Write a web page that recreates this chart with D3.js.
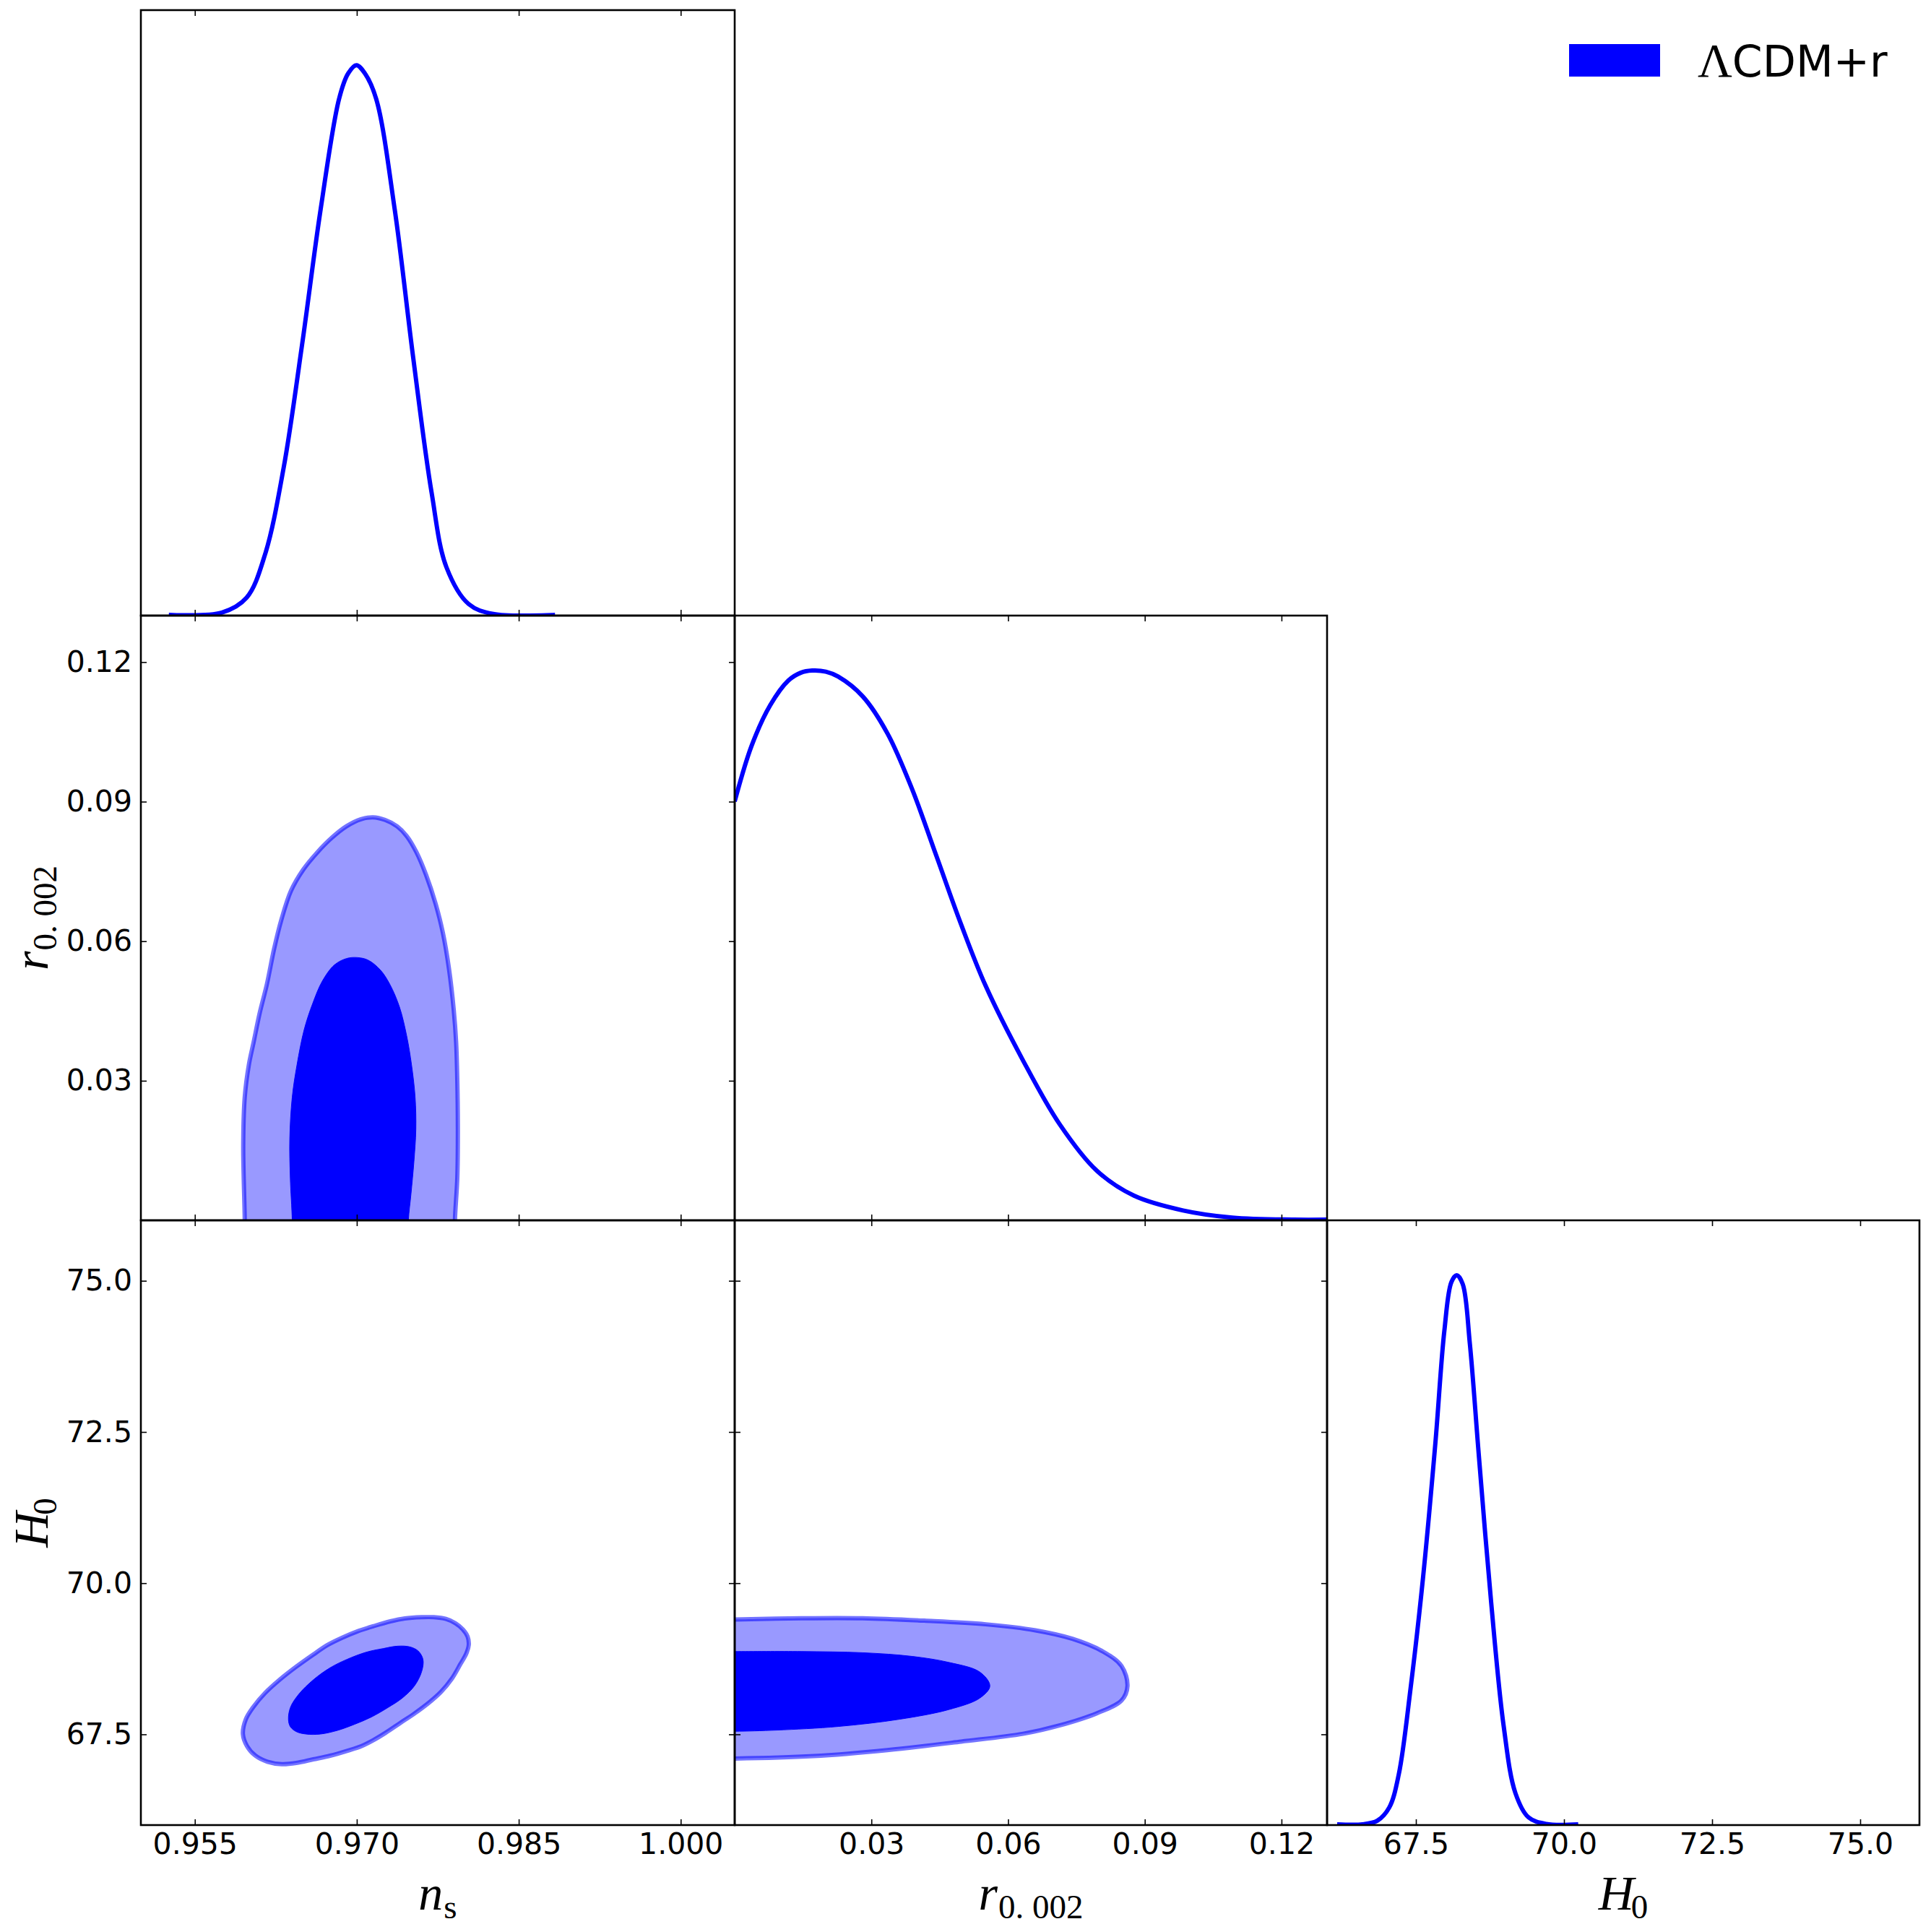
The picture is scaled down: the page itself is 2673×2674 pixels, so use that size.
<!DOCTYPE html>
<html><head><meta charset="utf-8">
<script src="https://cdn.jsdelivr.net/npm/d3@7"></script>
<style>body{margin:0;background:#fff}</style>
</head><body>
<svg id="c" width="2673" height="2674" xmlns="http://www.w3.org/2000/svg"></svg>
<script>
// ---------------- data ----------------
const paramNames = ["ns", "r", "H0"];
const domainNs = [0.95, 1.005];
const domainR = [0, 0.13];
const domainH0 = [66, 76];
const ticksNs = [0.955, 0.970, 0.985, 1.000];
const tickLabelsNs = ["0.955", "0.970", "0.985", "1.000"];
const ticksR = [0.03, 0.06, 0.09, 0.12];
const tickLabelsR = ["0.03", "0.06", "0.09", "0.12"];
const ticksH0 = [67.5, 70.0, 72.5, 75.0];
const tickLabelsH0 = ["67.5", "70.0", "72.5", "75.0"];
const legendLabel = "CDM+r";

// 1D marginals (normalised to peak 1)
const ns1D_x = [0.95259,0.95750,0.95979,0.96150,0.96322,0.96493,0.96665,0.96836,0.96920,0.96996,0.97075,0.97179,0.97351,0.97522,0.97693,0.97830,0.98036,0.98264,0.98836];
const ns1D_p = [0,0.0055,0.0325,0.111,0.268,0.492,0.738,0.939,0.985,1.0,0.985,0.939,0.738,0.469,0.223,0.088,0.021,0.003,0];
const r1D_x = [0,0.0037,0.0078,0.0118,0.0145,0.0170,0.0200,0.0227,0.0281,0.0335,0.0389,0.0443,0.0497,0.0551,0.0632,0.0713,0.0795,0.0876,0.0984,0.1092,0.1227,0.13];
const r1D_p = [0.762,0.863,0.937,0.982,0.996,1.0,0.998,0.989,0.953,0.886,0.785,0.662,0.538,0.426,0.292,0.175,0.090,0.045,0.018,0.005,0.0005,0];
const H01D_x = [66.17,66.60,66.85,67.05,67.21,67.41,67.62,67.83,67.98,68.10,68.19,68.29,68.41,68.56,68.77,68.98,69.18,69.40,69.70,70.24];
const H01D_p = [0,0.001,0.008,0.032,0.092,0.249,0.450,0.697,0.899,0.988,1.0,0.984,0.876,0.675,0.405,0.181,0.058,0.014,0.002,0];

// 2D contours (68% inner, 95% outer)
const nsR_outer = [[0.95962,-0.006],[0.95962,0],[0.95948,0.01608],[0.95962,0.02648],[0.96000,0.03341],[0.96044,0.03826],[0.96100,0.04450],[0.96167,0.05073],[0.96234,0.05836],[0.96301,0.06460],[0.96390,0.07083],[0.96502,0.07534],[0.96636,0.07915],[0.96770,0.08227],[0.96904,0.08470],[0.97038,0.08622],[0.97150,0.08664],[0.97261,0.08608],[0.97373,0.08470],[0.97462,0.08262],[0.97552,0.07915],[0.97641,0.07430],[0.97730,0.06806],[0.97797,0.06182],[0.97853,0.05420],[0.97898,0.04519],[0.97920,0.03826],[0.97931,0.02994],[0.97936,0.01955],[0.97931,0.00915],[0.97909,0],[0.97909,-0.006]];
const nsR_inner = [[0.96402,-0.006],[0.96402,0],[0.96384,0.00915],[0.96379,0.01747],[0.96402,0.02648],[0.96446,0.03341],[0.96513,0.04103],[0.96591,0.04658],[0.96681,0.05143],[0.96792,0.05489],[0.96904,0.05628],[0.97004,0.05649],[0.97105,0.05593],[0.97217,0.05385],[0.97306,0.05073],[0.97395,0.04588],[0.97462,0.03964],[0.97507,0.03341],[0.97540,0.02648],[0.97547,0.01955],[0.97529,0.01261],[0.97502,0.00568],[0.97478,0],[0.97478,-0.006]];
const nsH0_outer = [[0.95945,67.505],[0.95983,67.306],[0.96061,67.147],[0.96172,67.048],[0.96306,67.007],[0.96440,67.027],[0.96597,67.087],[0.96753,67.147],[0.96909,67.227],[0.97043,67.306],[0.97155,67.406],[0.97266,67.525],[0.97400,67.685],[0.97534,67.844],[0.97668,68.023],[0.97780,68.202],[0.97881,68.422],[0.97959,68.660],[0.98015,68.840],[0.98037,68.979],[0.98026,69.118],[0.97981,69.238],[0.97914,69.337],[0.97825,69.409],[0.97713,69.437],[0.97601,69.437],[0.97445,69.417],[0.97311,69.369],[0.97155,69.289],[0.96998,69.198],[0.96864,69.098],[0.96730,68.979],[0.96597,68.820],[0.96440,68.620],[0.96284,68.401],[0.96150,68.183],[0.96038,67.944],[0.95971,67.744]];
const nsH0_inner = [[0.96367,67.744],[0.96385,67.625],[0.96440,67.545],[0.96529,67.505],[0.96663,67.505],[0.96820,67.565],[0.96976,67.664],[0.97132,67.784],[0.97289,67.944],[0.97423,68.103],[0.97534,68.302],[0.97601,68.541],[0.97613,68.740],[0.97568,68.879],[0.97490,68.947],[0.97378,68.959],[0.97244,68.919],[0.97088,68.859],[0.96909,68.740],[0.96753,68.601],[0.96597,68.401],[0.96462,68.162],[0.96385,67.944]];
const rH0_outer = [[-0.005,69.40],[0,69.40],[0.0146,69.42],[0.0281,69.42],[0.0416,69.38],[0.0551,69.32],[0.0660,69.22],[0.0741,69.08],[0.0808,68.87],[0.0849,68.63],[0.0862,68.30],[0.0849,68.06],[0.0795,67.85],[0.0714,67.65],[0.0633,67.51],[0.0497,67.38],[0.0335,67.24],[0.0173,67.14],[0,67.10],[-0.005,67.10]];
const rH0_inner = [[-0.005,68.87],[0,68.87],[0.0146,68.87],[0.0281,68.85],[0.0389,68.79],[0.0470,68.69],[0.0538,68.53],[0.0560,68.30],[0.0538,68.10],[0.0470,67.91],[0.0362,67.75],[0.0227,67.63],[0.0092,67.57],[0,67.55],[-0.005,67.55]];

// ---------------- layout ----------------
const xEdges = [195, 1017, 1837, 2657];
const yEdges = [14, 852, 1689, 2526];
const svg = d3.select("#c");
const BLUE = "#0000ff";
const LIGHT = "#9999ff";
const TICKFONT = "DejaVu Sans";

const doms = {ns: domainNs, r: domainR, H0: domainH0};
const tickSets = {ns: [ticksNs, tickLabelsNs], r: [ticksR, tickLabelsR], H0: [ticksH0, tickLabelsH0]};
function xScale(col){ return d3.scaleLinear().domain(doms[paramNames[col]]).range([xEdges[col], xEdges[col+1]]); }
function yScale(row){ return d3.scaleLinear().domain(doms[paramNames[row]]).range([yEdges[row+1], yEdges[row]]); }
function pScale(row){ return d3.scaleLinear().domain([0, 1.1]).range([yEdges[row+1], yEdges[row]]); }

const defs = svg.append("defs");
for (let row = 0; row < 3; row++) for (let col = 0; col <= row; col++) {
  defs.append("clipPath").attr("id", `clip${row}${col}`).append("rect")
    .attr("x", xEdges[col]).attr("y", yEdges[row])
    .attr("width", xEdges[col+1]-xEdges[col]).attr("height", yEdges[row+1]-yEdges[row]);
}

// 2D contours
function drawContours(row, col, outer, inner){
  const xs = xScale(col), ys = yScale(row);
  const g = svg.append("g").attr("clip-path", `url(#clip${row}${col})`);
  const line = d3.line().x(d => xs(d[0])).y(d => ys(d[1])).curve(d3.curveCatmullRomClosed.alpha(0.5));
  g.append("path").attr("d", line(outer)).attr("fill", LIGHT).attr("stroke", BLUE)
    .attr("stroke-opacity", 0.55).attr("stroke-width", 6).attr("stroke-linejoin", "round");
  g.append("path").attr("d", line(inner)).attr("fill", BLUE).attr("stroke", BLUE).attr("stroke-width", 1);
}
drawContours(1, 0, nsR_outer, nsR_inner);
drawContours(2, 0, nsH0_outer, nsH0_inner);
drawContours(2, 1, rH0_outer, rH0_inner);

// 1D curves
function draw1D(i, xv, pv){
  const xs = xScale(i), ps = pScale(i);
  const pts = xv.map((v, k) => [v, pv[k]]);
  const line = d3.line().x(d => xs(d[0])).y(d => Math.min(ps(d[1]), yEdges[i+1] - 1)).curve(d3.curveCatmullRom.alpha(0.5));
  svg.append("g").attr("clip-path", `url(#clip${i}${i})`).append("path")
    .attr("d", line(pts)).attr("fill", "none").attr("stroke", BLUE).attr("stroke-width", 6)
    .attr("stroke-linejoin", "round");
}
draw1D(0, ns1D_x, ns1D_p);
draw1D(1, r1D_x, r1D_p);
draw1D(2, H01D_x, H01D_p);

// axes & frames
function styleAxis(g, showLabels){
  g.select(".domain").remove();
  g.selectAll(".tick line").attr("stroke", "#000").attr("stroke-width", 1.6);
  g.selectAll(".tick text").attr("font-family", TICKFONT).attr("font-size", 41).attr("fill", "#000");
  if (!showLabels) g.selectAll(".tick text").remove();
}
for (let row = 0; row < 3; row++) for (let col = 0; col <= row; col++) {
  const xs = xScale(col);
  const [tv, tl] = tickSets[paramNames[col]];
  const fmt = (d) => tl[tv.indexOf(d)];
  const bottom = svg.append("g").attr("transform", `translate(0,${yEdges[row+1]})`)
    .call(d3.axisBottom(xs).tickValues(tv).tickFormat(fmt).tickSizeInner(-8).tickSizeOuter(0).tickPadding(11));
  styleAxis(bottom, row === 2);
  const top = svg.append("g").attr("transform", `translate(0,${yEdges[row]})`)
    .call(d3.axisTop(xs).tickValues(tv).tickFormat(fmt).tickSizeInner(-8).tickSizeOuter(0));
  styleAxis(top, false);
  if (row !== col) {
    const ys = yScale(row);
    const [yv, yl] = tickSets[paramNames[row]];
    const yfmt = (d) => yl[yv.indexOf(d)];
    const left = svg.append("g").attr("transform", `translate(${xEdges[col]},0)`)
      .call(d3.axisLeft(ys).tickValues(yv).tickFormat(yfmt).tickSizeInner(-8).tickSizeOuter(0).tickPadding(12));
    styleAxis(left, col === 0);
    const right = svg.append("g").attr("transform", `translate(${xEdges[col+1]},0)`)
      .call(d3.axisRight(ys).tickValues(yv).tickFormat(yfmt).tickSizeInner(-8).tickSizeOuter(0));
    styleAxis(right, false);
  }
  svg.append("rect").attr("x", xEdges[col]).attr("y", yEdges[row])
    .attr("width", xEdges[col+1]-xEdges[col]).attr("height", yEdges[row+1]-yEdges[row])
    .attr("fill", "none").attr("stroke", "#000").attr("stroke-width", 2.6);
}

// axis labels (math-style)
const labelParts = {
  ns: ["n", "s"],
  r: ["r", "0. 002"],
  H0: ["H", "0"]
};
const SERIF = "Liberation Serif";
function mathLabel(g, key){
  const [main, sub] = labelParts[key];
  const t = g.append("text").attr("text-anchor", "middle").attr("font-family", SERIF).attr("fill", "#000");
  t.append("tspan").attr("font-style", "italic").attr("font-size", 68).text(main);
  t.append("tspan").attr("font-size", 47).attr("dy", 12).attr("dx", key === "H0" ? -4 : 1).text(sub);
  return t;
}
for (let col = 0; col < 3; col++) {
  const cx = (xEdges[col] + xEdges[col+1]) / 2;
  const g = svg.append("g").attr("transform", `translate(${cx},2643)`);
  mathLabel(g, paramNames[col]);
}
for (let row = 1; row < 3; row++) {
  const cy = (yEdges[row] + yEdges[row+1]) / 2;
  const g = svg.append("g").attr("transform", `translate(66,${cy}) rotate(-90)`);
  mathLabel(g, paramNames[row]);
}

// legend
svg.append("rect").attr("x", 2172).attr("y", 61).attr("width", 126).attr("height", 45).attr("fill", BLUE);
const lt = svg.append("text").attr("x", 2350).attr("y", 106).attr("fill", "#000");
lt.append("tspan").attr("font-family", SERIF).attr("font-size", 66).text("\u039B");
lt.append("tspan").attr("font-family", "DejaVu Sans").attr("font-size", 60).text(legendLabel);
</script>
</body></html>
